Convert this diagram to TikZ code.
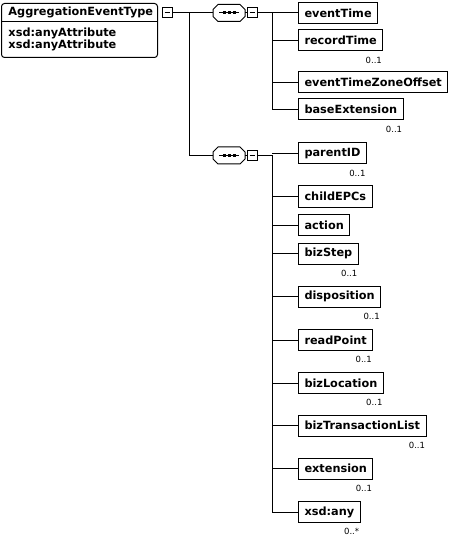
\documentclass[tikz,border=0pt]{standalone}
\usepackage{fontspec}
\setmainfont{DejaVu Sans}

\tikzset{
  elem/.style={draw, fill=white, anchor=west, minimum height=21pt, inner xsep=6pt, inner ysep=0pt,
    font=\bfseries\fontsize{11.3}{13}\selectfont},
  card/.style={anchor=north east, inner sep=0pt, font=\fontsize{8.5}{9}\selectfont},
  minusbox/.style={draw, fill=white, minimum size=10pt, inner sep=0pt,
    path picture={\draw (path picture bounding box.west) ++(2.5pt,0) -- ++(5pt,0);}},
  seqbox/.style={minimum width=32pt, minimum height=18pt, inner sep=0pt},
}

\begin{document}
\begin{tikzpicture}[x=1pt, y=-1pt, line width=1pt]
  \useasboundingbox (0,0) rectangle (453,545);

  % Complex type box
  \node[draw, rounded corners=3pt, anchor=north west, minimum width=156pt, minimum height=54pt] (type) at (1,3) {};
  \draw (1,22) -- (157,22);
  \node[anchor=west, inner xsep=0pt, font=\bfseries\fontsize{11.3}{13}\selectfont] (typename) at (8,12.5) {AggregationEventType};
  \node[anchor=north west, align=left, inner sep=0pt, font=\bfseries\fontsize{11.3}{12}\selectfont] (attrs) at (8,27.5)
    {xsd:anyAttribute\\xsd:anyAttribute};
  \node[minusbox] (typepm) at (167,13) {};

  % Sequence compositors
  \node[seqbox] (seqA) at (229,13) {};
  \node[minusbox] (seqApm) at (252,13) {};
  \node[seqbox] (seqB) at (229,155.5) {};
  \node[minusbox] (seqBpm) at (252,155.5) {};
  \foreach \s in {seqA, seqB} {
    \draw ([shift={(-16,-3.5)}]\s.center) -- ++(5,-5) -- ++(22,0) -- ++(5,5) -- ++(0,7)
      -- ++(-5,5) -- ++(-22,0) -- ++(-5,-5) -- cycle;
    \draw ([xshift=-10pt]\s.center) -- ([xshift=10pt]\s.center);
    \foreach \d in {-5,0,5}
      \fill ([shift={(\d-1.5,-1.5)}]\s.center) rectangle ++(3,3);
  }

  \coordinate (trunk) at (189,13);
  \coordinate (busA) at (272,13);
  \coordinate (busB) at (272,155.5);

  % First sequence children
  \node[elem] (eventTime) at (298,13) {eventTime};
  \node[elem] (recordTime) at (298,40.5) {recordTime};
  \node[elem] (eventTimeZoneOffset) at (298,82.5) {eventTimeZoneOffset};
  \node[elem] (baseExtension) at (298,109.5) {baseExtension};

  % Second sequence children
  \node[elem] (parentID) at (298,153.5) {parentID};
  \node[elem] (childEPCs) at (298,196.5) {childEPCs};
  \node[elem] (action) at (298,225) {action};
  \node[elem] (bizStep) at (298,253.5) {bizStep};
  \node[elem] (disposition) at (298,296.5) {disposition};
  \node[elem] (readPoint) at (298,340) {readPoint};
  \node[elem] (bizLocation) at (298,383) {bizLocation};
  \node[elem] (bizTransactionList) at (298,425.5) {bizTransactionList};
  \node[elem] (extension) at (298,468.5) {extension};
  \node[elem] (xsdany) at (298,512) {xsd:any};

  % Occurrence labels
  \foreach \n in {recordTime, baseExtension, parentID, bizStep, disposition, readPoint,
                  bizLocation, bizTransactionList, extension}
    \node[card] (\n card) at ([shift={(-1pt,-5pt)}]\n.south east) {0..1};
  \node[card] (xsdanycard) at ([shift={(-1pt,-5pt)}]xsdany.south east) {0..*};

  % Connectors
  \draw (typepm) -- ([xshift=-16pt]seqA.center);
  \draw (trunk) |- ([xshift=-16pt]seqB.center);
  \draw ([xshift=16pt]seqA.center) -- (seqApm);
  \draw ([xshift=16pt]seqB.center) -- (seqBpm);
  \draw (seqApm.east) -- (busA) |- (baseExtension.west);
  \draw (seqBpm.east) -- (busB) |- (xsdany.west);
  \foreach \n in {eventTime, recordTime, eventTimeZoneOffset}
    \draw (busA |- \n.west) -- (\n.west);
  \foreach \n in {parentID, childEPCs, action, bizStep, disposition, readPoint,
                  bizLocation, bizTransactionList, extension}
    \draw (busB |- \n.west) -- (\n.west);
\end{tikzpicture}
\end{document}
